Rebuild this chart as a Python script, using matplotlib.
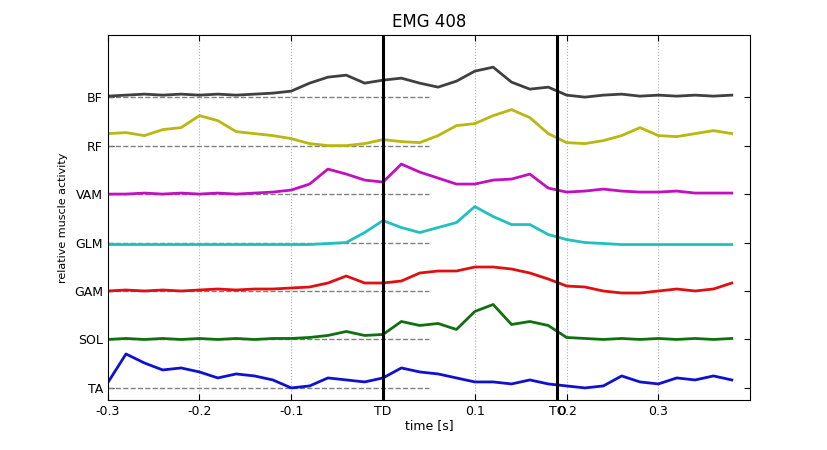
import numpy as np
import matplotlib
matplotlib.use("Agg")
import matplotlib.pyplot as plt

t = np.round(np.arange(-0.30, 0.381, 0.02), 2)
muscles = ["TA", "SOL", "GAM", "GLM", "VAM", "RF", "BF"]
colors = ["#1010d0", "#107010", "#e01010", "#20c0c0", "#c010c0", "#b8b810", "#404040"]
# activity heights above baseline (in pixel-like units, 48.5 = one channel spacing)
BF = [1,2,3,2,3,2,3,2,3,4,6,14,20,22,14,17,19,14,10,16,26,30,15,8,10,2,0,2,3,1,2,1,2,1,2]
RF = [12,13,10,16,18,30,25,14,12,10,7,2,0,0,2,6,4,3,10,20,22,30,36,28,12,3,2,5,10,18,10,9,12,15,12]
VAM = [0,0,1,0,1,0,1,0,1,2,4,10,25,20,14,12,30,22,16,10,10,14,15,20,6,2,3,5,3,2,2,3,1,1,1]
GLM = [-2,-2,-2,-2,-2,-2,-2,-2,-2,-2,-2,-2,-1,0,10,22,15,10,15,20,36,26,18,18,8,3,0,-1,-2,-2,-2,-2,-2,-2,-2]
GAM = [0,1,0,1,0,1,2,1,2,2,3,4,8,15,8,8,10,18,20,20,24,24,22,18,12,5,4,0,-2,-2,0,2,0,2,8]
SOL = [0,1,0,1,0,1,0,1,0,1,1,2,4,8,4,5,18,14,16,10,28,35,15,18,14,2,1,0,1,0,1,0,1,0,1]
TA = [5,34,25,18,20,16,10,14,12,8,0,2,10,8,6,10,20,16,14,10,6,6,4,8,4,2,0,2,12,6,4,10,8,12,8]
series = [TA, SOL, GAM, GLM, VAM, RF, BF]
t_TD, t_TO = 0.0, 0.19
xticks = [-0.3, -0.2, -0.1, 0.0, 0.1, 0.19, 0.2, 0.3]
xlabels = ["-0.3", "-0.2", "-0.1", "TD", "0.1", "TO", "0.2", "0.3"]

fig = plt.figure(figsize=(8.28, 4.5), dpi=100)
ax = fig.add_axes([0.130, 0.111, 0.776, 0.811])
sc = 48.5
for i, (s, c) in enumerate(zip(series, colors)):
    ax.plot([-0.3, 0.05], [i, i], color="#808080", ls="--", lw=1)
    ax.plot(t, i + np.array(s) / sc, color=c, lw=2)
ax.axvline(t_TD, color="k", lw=2.2)
ax.axvline(t_TO, color="k", lw=2.2)
ax.set_xlim(-0.3, 0.4)
ax.set_ylim(-0.25, 7.28)
ax.set_yticks(range(7))
ax.set_yticklabels(muscles)
ax.set_xticks(xticks)
ax.set_xticklabels(xlabels)
for x in [-0.2, -0.1, 0.1, 0.2, 0.3]:
    ax.axvline(x, color="#b0b0b0", ls=":", lw=0.8, zorder=0)
ax.tick_params(direction="in", right=True, top=True, labelsize=9, length=4)
ax.set_xlabel("time [s]", fontsize=9, labelpad=1)
ax.set_ylabel("relative muscle activity", fontsize=8)
ax.set_title("EMG 408", fontsize=12)
fig.savefig("out.png", dpi=100)
